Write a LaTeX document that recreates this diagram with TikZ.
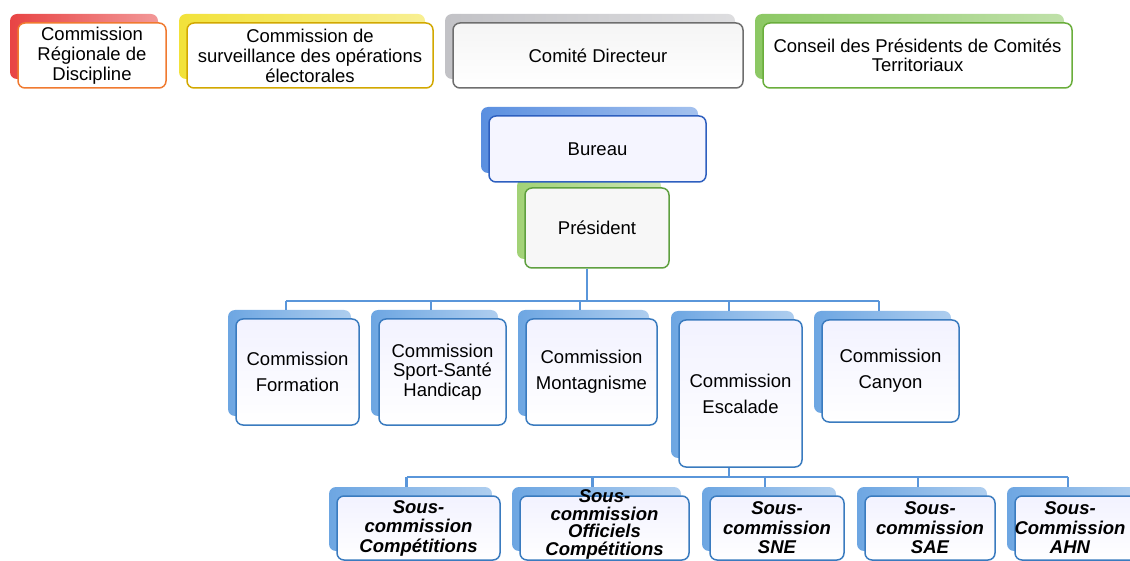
\documentclass[tikz,border=0pt]{standalone}
\usepackage{fontspec}
\setmainfont{Liberation Sans}
\usetikzlibrary{shadows,calc}
\definecolor{orangeB}{HTML}{F07A30}
\definecolor{redS}{HTML}{E84444}
\definecolor{goldB}{HTML}{D2A800}
\definecolor{yellowS}{HTML}{F2E23A}
\definecolor{grayB}{HTML}{6E6E6E}
\definecolor{grayS}{HTML}{C2C2C6}
\definecolor{greenB}{HTML}{6AAE3C}
\definecolor{greenS}{HTML}{8CC864}
\definecolor{bluB}{HTML}{2E5FBF}
\definecolor{bluS}{HTML}{5A8FE0}
\definecolor{presB}{HTML}{5FA040}
\definecolor{presS}{HTML}{A2D276}
\definecolor{comB}{HTML}{3A7BBF}
\definecolor{comS}{HTML}{6DA6E2}
\definecolor{connC}{HTML}{5A96DA}
\tikzset{
  fbox/.style={draw, rounded corners=7pt, line width=1.5pt, align=center, inner sep=0pt,
    font=\fontsize{18.5}{20}\selectfont},
  shd/.style={general shadow={shadow xshift=-8pt, shadow yshift=9pt, draw=none,
    left color=#1, right color=#1!55!white}},
  topred/.style={fbox, draw=orangeB, fill=white, shd=redS},
  topyel/.style={fbox, draw=goldB, fill=white, shd=yellowS},
  topgray/.style={fbox, draw=grayB, top color=gray!8, bottom color=white, shd=grayS},
  topgreen/.style={fbox, draw=greenB, fill=white, shd=greenS, font=\fontsize{18.5}{18.5}\selectfont},
  burbox/.style={fbox, draw=bluB, fill=blue!4, shd=bluS},
  presbox/.style={fbox, draw=presB, fill=gray!6, shd=presS},
  combox/.style={fbox, draw=comB, top color=blue!5, bottom color=white, shd=comS},
  subfont/.style={font=\fontsize{18.5}{19.5}\selectfont\bfseries\itshape},
  subbox/.style={combox, subfont},
  subtext/.style={subfont, align=center, inner sep=0pt},
  conn/.style={draw=connC, line width=2.2pt},
}
\begin{document}
\begin{tikzpicture}[x=1pt,y=-1pt]
\useasboundingbox (0,0) rectangle (1130,561);

% top row
\node[topred, minimum width=148pt, minimum height=65pt] (crd) at (92,55.5) {Commission\\Régionale de\\Discipline};
\node[topyel, minimum width=246pt, minimum height=65pt] (csoe) at (310,55.5) {Commission de\\surveillance des opérations\\électorales};
\node[topgray, minimum width=290pt, minimum height=65pt] (cd) at (598,55.5) {Comité Directeur};
\node[topgreen, minimum width=309pt, minimum height=65pt] (cpct) at (917.5,55.5) {Conseil des Présidents de Comités\\Territoriaux};

% bureau / president
\node[presbox, minimum width=144pt, minimum height=80pt] (pres) at (597,228) {Président};
\node[burbox, minimum width=217pt, minimum height=66pt] (bur) at (597.5,149) {Bureau};

% commissions
\node[combox, minimum width=123pt, minimum height=106pt, font=\fontsize{18.5}{26}\selectfont] (cf) at (297.5,372) {Commission\\Formation};
\node[combox, minimum width=127pt, minimum height=106pt, font=\fontsize{18.5}{19.5}\selectfont] (cs) at (442.5,372) {Commission\\Sport-Santé\\Handicap};
\node[combox, minimum width=131pt, minimum height=106pt, font=\fontsize{18.5}{26}\selectfont] (cm) at (591.5,372) {Commission\\Montagnisme};
\node[combox, minimum width=123pt, minimum height=147pt, font=\fontsize{18.5}{26}\selectfont] (ce) at (740.5,393.5) {Commission\\Escalade};
\node[combox, minimum width=137pt, minimum height=102pt, font=\fontsize{18.5}{26}\selectfont] (cc) at (890.5,371) {Commission\\Canyon};

% sub-commissions
\node[subbox, minimum width=163pt, minimum height=64pt] (sc1) at (418.5,528) {Sous-\\commission\\Compétitions};
\node[subbox, minimum width=169pt, minimum height=64pt] (sc2) at (604.5,528) {};
\node[subtext, font=\fontsize{18.5}{17.5}\selectfont\bfseries\itshape] (sc2t) at (604.5,524.5) {Sous-\\commission\\Officiels\\Compétitions};
\node[subbox, minimum width=134pt, minimum height=64pt] (sc3) at (777,528) {Sous-\\commission\\SNE};
\node[subbox, minimum width=130pt, minimum height=64pt] (sc4) at (930,528) {Sous-\\commission\\SAE};
\node[subbox, minimum width=130pt, minimum height=64pt] (sc5) at (1080,528) {};
\node[subtext] (sc5t) at (1070,528) {Sous-\\Commission\\AHN};

% connectors level 1
\draw[conn] ($(pres.south)+(-10,0)$) -- ++(0,32) coordinate (hub);
\foreach \n in {cf,cs,cm,ce,cc} {\coordinate (\n T) at ($(\n.north)+(-11.5,-8)$);}
\draw[conn] (hub -| cfT) -- (hub -| ccT);
\foreach \n in {cf,cs,cm,ce,cc} {\draw[conn] (hub -| \n T) -- (\n T);}

% connectors level 2
\draw[conn] ($(ce.south)+(-11.5,0)$) -- ++(0,9) coordinate (hubb);
\foreach \n in {sc1,sc2,sc3,sc4,sc5} {\coordinate (\n T) at ($(\n.north)+(-12,-8)$);}
\draw[conn] (hubb -| sc1T) -- (hubb -| sc5T);
\foreach \n in {sc1,sc2,sc3,sc4,sc5} {\draw[conn] (hubb -| \n T) -- (\n T);}
\end{tikzpicture}
\end{document}
